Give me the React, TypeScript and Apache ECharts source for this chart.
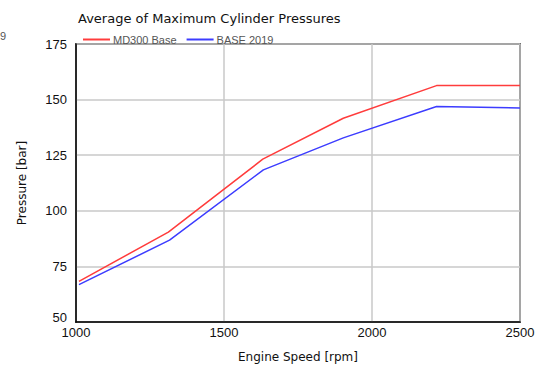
import React, { useEffect, useRef } from "react";
import * as echarts from "echarts";

const rpmRed = [1010, 1312, 1631, 1903, 2218, 2500];
const md300Base = [68.3, 90.4, 123.2, 141.6, 156.3, 156.3];
const rpmBlue = [1010, 1316, 1633, 1903, 2218, 2500];
const base2019 = [66.8, 86.8, 118.4, 132.8, 146.9, 146.2];
const xTicks = { min: 1000, max: 2500, interval: 500 };
const yTicks = { min: 50, max: 175, interval: 25 };

export default function App() {
  const ref = useRef<HTMLDivElement>(null);
  useEffect(() => {
    document.body.style.margin = "0";
    const chart = echarts.init(ref.current!, null, { renderer: "svg" });
    chart.setOption({
      animation: false,
      backgroundColor: "#ffffff",
      title: {
        text: "Average of Maximum Cylinder Pressures",
        left: 73,
        top: 7,
        textStyle: { fontFamily: "DejaVu Sans", fontSize: 13, fontWeight: "normal", color: "#111" },
      },
      legend: {
        left: 78,
        top: 29,
        itemWidth: 27,
        itemHeight: 2,
        itemGap: 10,
        icon: "rect",
        textStyle: { fontFamily: "Liberation Sans", fontSize: 11, color: "#555", padding: [0, 0, 0, -2] },
        data: ["MD300 Base", "BASE 2019"],
      },
      graphic: [
        {
          type: "text",
          left: 0,
          top: 30,
          style: { text: "9", font: "11px Liberation Sans", fill: "#555" },
        },
      ],
      grid: {
        left: 76,
        right: 23,
        top: 44,
        bottom: 50,
        show: true,
        borderColor: "#000",
        borderWidth: 1.5,
      },
      xAxis: {
        type: "value",
        min: xTicks.min,
        max: xTicks.max,
        interval: xTicks.interval,
        name: "Engine Speed [rpm]",
        nameLocation: "middle",
        nameGap: 29,
        nameTextStyle: { fontFamily: "DejaVu Sans", fontSize: 12, color: "#111" },
        axisLine: { show: true, lineStyle: { color: "#000", width: 1.5 } },
        axisTick: { show: false },
        axisLabel: {
          fontFamily: "Liberation Sans",
          fontSize: 13,
          color: "#111",
          margin: 4,
          formatter: (v: number) => String(v),
        },
        splitLine: { show: true, lineStyle: { color: "#c8c8c8", width: 1.5 } },
      },
      yAxis: {
        type: "value",
        min: yTicks.min,
        max: yTicks.max,
        interval: yTicks.interval,
        name: "Pressure [bar]",
        nameLocation: "middle",
        nameGap: 48,
        nameTextStyle: { fontFamily: "DejaVu Sans", fontSize: 12, color: "#111" },
        axisLine: { show: true, lineStyle: { color: "#000", width: 1.5 } },
        axisTick: { show: false },
        axisLabel: {
          fontFamily: "Liberation Sans",
          fontSize: 13,
          color: "#111",
          margin: 9,
          formatter: (v: number) => (v === yTicks.min ? "{low|" + v + "}" : String(v)),
          rich: {
            low: { fontFamily: "Liberation Sans", fontSize: 13, color: "#111", padding: [0, 0, 9, 0] },
          },
        },
        splitLine: { show: true, lineStyle: { color: "#c8c8c8", width: 1.5 } },
      },
      series: [
        {
          name: "MD300 Base",
          type: "line",
          data: rpmRed.map((x, i) => [x, md300Base[i]]),
          symbol: "none",
          color: "#ff3c3c",
          lineStyle: { color: "#ff3c3c", width: 1.5 },
        },
        {
          name: "BASE 2019",
          type: "line",
          data: rpmBlue.map((x, i) => [x, base2019[i]]),
          symbol: "none",
          color: "#3c3cff",
          lineStyle: { color: "#3c3cff", width: 1.5 },
        },
      ],
    });
    return () => chart.dispose();
  }, []);
  return <div ref={ref} style={{ width: 543, height: 372 }} />;
}
